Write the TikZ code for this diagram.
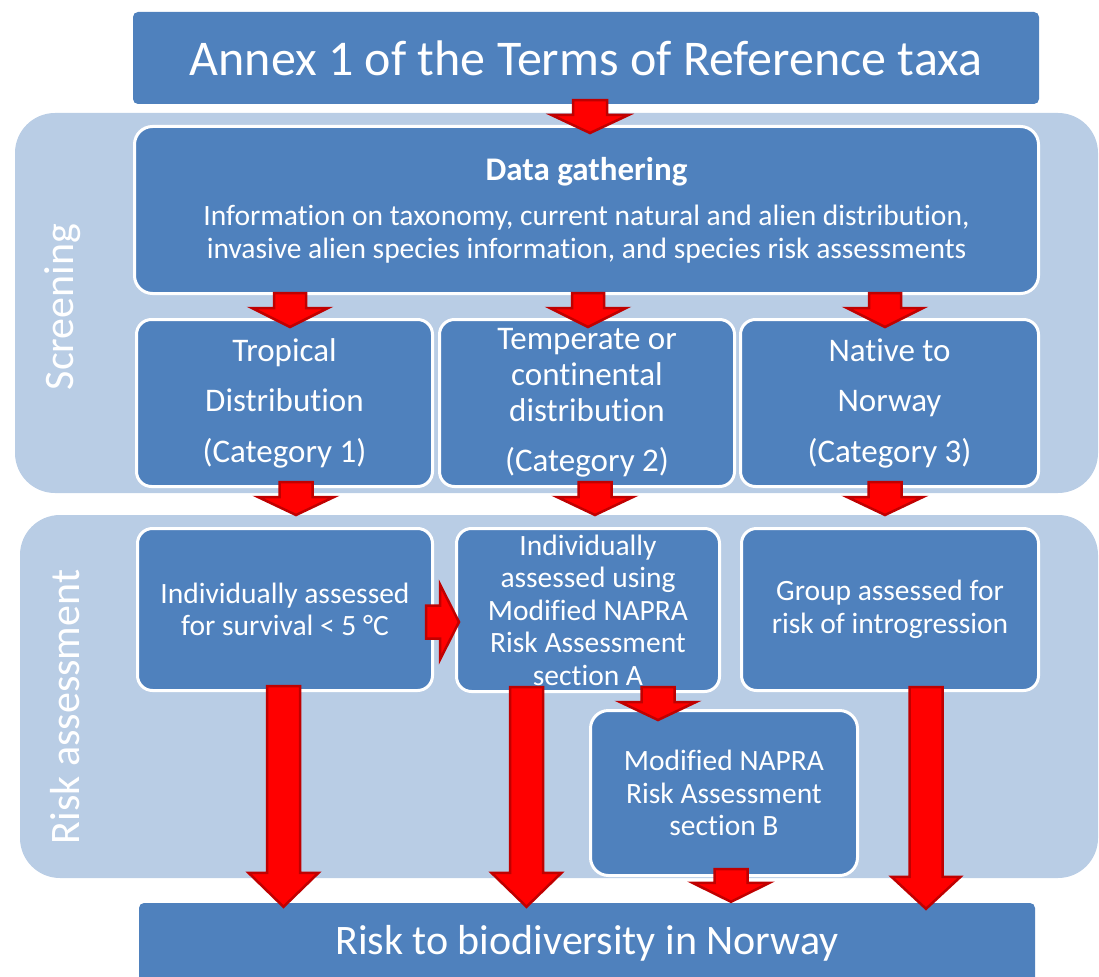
\documentclass[tikz,border=0pt]{standalone}
\usepackage{fontspec}
\setmainfont{Carlito}[Ligatures=NoCommon]
\usetikzlibrary{calc}
\definecolor{boxblue}{HTML}{4F81BD}
\definecolor{bandblue}{HTML}{B9CDE5}
\definecolor{arrred}{HTML}{FF0000}
\definecolor{arrdark}{HTML}{C00000}
\tikzset{
  sz/.style 2 args={minimum width=#1pt, minimum height=#2pt},
  band/.style={rectangle, fill=bandblue, rounded corners=40pt, inner sep=0pt},
  plainbox/.style={rectangle, fill=boxblue, rounded corners=5pt, inner sep=0pt, text=white, align=center},
  inbox/.style={rectangle, fill=boxblue, draw=white, line width=3pt, rounded corners=15pt, inner sep=0pt, text=white, align=center, font=\fontsize{29.5}{32.5}\selectfont},
  catbox/.style={inbox, font=\fontsize{33}{36}\selectfont},
  sidelabel/.style={text=white, rotate=90, font=\fontsize{42}{50}\selectfont, inner sep=0pt},
  blockarrow/.style={fill=arrred, draw=arrdark, line width=2.5pt, line join=miter}
}
\newcommand{\barr}[5]{%
  \coordinate (bA) at (#1);
  \coordinate (bB) at (#2);
  \coordinate (bH) at ($(bB)!#5!(bA)$);
  \draw[blockarrow] ($(bA)!#3!90:(bB)$) -- ($(bH)!#3!90:(bB)$) -- ($(bH)!#4!90:(bB)$) -- (bB)
    -- ($(bH)!#4!-90:(bB)$) -- ($(bH)!#3!-90:(bB)$) -- ($(bA)!#3!-90:(bB)$) -- cycle;}
\begin{document}
\begin{tikzpicture}[x=1pt, y=-1pt]
\useasboundingbox (0,0) rectangle (1099,976);
\clip (0,0) rectangle (1099,976);
% bands
\node[band, sz={1083}{380}] (scrband) at (556.5,303) {};
\node[band, sz={1078}{363}] (riskband) at (559,696.5) {};
\node[sidelabel] (scrlabel) at (63,307) {Screening};
\node[sidelabel] (risklabel) at (65,707) {Risk assessment};
% title and bottom
\node[plainbox, sz={906}{92}, font=\fontsize{50}{56}\selectfont] (title) at (586,58) {Annex 1 of the Terms of Reference taxa};
\node[plainbox, sz={896}{80}, font=\fontsize{42}{48}\selectfont] (bottom) at (587,943) {Risk to biodiversity in Norway};
% data gathering
\node[inbox, sz={904}{167}, rounded corners=18pt, font=\fontsize{29.5}{33}\selectfont] (data) at (586.5,210)
  {{\fontsize{33}{36}\selectfont\bfseries Data gathering}\\[12pt]
   Information on taxonomy, current natural and alien distribution,\\
   invasive alien species information, and species risk assessments};
% categories
\node[catbox, sz={296}{167}] (cat1) at (284.5,403) {Tropical\\[14.5pt]Distribution\\[14.5pt](Category 1)};
\node[catbox, sz={295}{167}] (cat2) at (587,403) {Temperate or\\continental\\distribution\\[14pt](Category 2)};
\node[catbox, sz={298}{167}] (cat3) at (889.5,403) {Native to\\[14.5pt]Norway\\[14.5pt](Category 3)};
% risk assessment boxes
\node[inbox, sz={295}{162}] (ra1) at (285,609.5) {Individually assessed\\for survival < 5 °C};
\node[inbox, sz={263}{163}] (ra2) at (588,610) {Individually\\assessed using\\Modified NAPRA\\Risk Assessment\\section A};
\node[inbox, sz={297}{162}] (ra3) at (890,609.5) {Group assessed for\\risk of introgression};
\node[inbox, sz={267}{165}, rounded corners=18pt] (secB) at (724,793) {Modified NAPRA\\Risk Assessment\\section B};
% arrows
\barr{$(title.south)+(4,-4)$}{$(data.north)+(3.5,8)$}{17pt}{38.5pt}{18pt}
\barr{$(data.south)+(-296.5,-2)$}{$(cat1.north)+(5.5,9)$}{16pt}{38pt}{19pt}
\barr{$(data.south)+(1.5,-2)$}{$(cat2.north)+(1,9)$}{16pt}{38pt}{19pt}
\barr{$(data.south)+(298.5,-2)$}{$(cat3.north)+(-4.5,9)$}{16pt}{38pt}{19pt}
\barr{$(cat1.south)+(11.5,-6)$}{$(ra1.north)+(11,-12)$}{16.5pt}{38pt}{18pt}
\barr{$(cat2.south)+(8,-6)$}{$(ra2.north)+(7,-12)$}{16.5pt}{38pt}{18pt}
\barr{$(cat3.south)+(-4.5,-6)$}{$(ra3.north)+(-5,-12)$}{16.5pt}{38pt}{18pt}
\barr{$(ra1.east)+(-8,12.5)$}{$(ra2.west)+(4,12)$}{16.5pt}{37.5pt}{19pt}
\barr{$(ra2.south)+(70,-6)$}{$(secB.north)+(-66,11)$}{16.5pt}{38pt}{18pt}
\barr{$(secB.south)+(7,-8)$}{$(bottom.north)+(144,-1)$}{16.5pt}{38.5pt}{19pt}
\barr{$(ra1.south)+(-1.5,-6)$}{$(bottom.north)+(-303.5,4)$}{16.5pt}{35pt}{34pt}
\barr{$(ra2.south)+(-61.5,-6)$}{$(bottom.north)+(-60.5,4)$}{16.5pt}{35pt}{34pt}
\barr{$(ra3.south)+(36,-5)$}{$(bottom.north)+(339,6)$}{16.5pt}{34.5pt}{32pt}
\end{tikzpicture}
\end{document}
